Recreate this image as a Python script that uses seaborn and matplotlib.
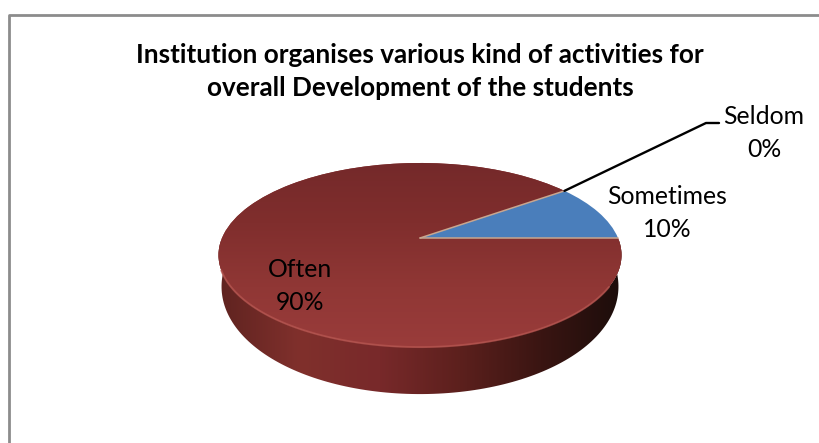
import numpy as np
import matplotlib
matplotlib.use("Agg")
import matplotlib.pyplot as plt
from matplotlib.patches import Polygon
from matplotlib.transforms import Transform
import seaborn as sns

# Data
categories = ["Sometimes", "Seldom", "Often"]
values = [10, 0, 90]
title = "Institution organises various kind of activities for\noverall Development of the students"

# Colours
pie_colors = ["#4a7ebb", "#4a7ebb", "#8c3533"]
top_shades = ["#74292a", "#802e2d", "#903735", "#9a3c3b"]
side_shades = ["#5f2320", "#80302c", "#78292a", "#5c201d", "#3a1512", "#1c0d0b"]

# Pie placement on the canvas, in pixels
cx, cy = 420, 238
rx, ry, tilt = 198, 88.9, 0.185


class Perspective(Transform):
    input_dims = 2
    output_dims = 2
    is_separable = False

    def transform_non_affine(self, values):
        values = np.asarray(values, dtype=float)
        w = 1 + tilt * values[:, 1]
        return np.column_stack([cx + rx * values[:, 0] / w, cy - ry * values[:, 1] / w])


persp = Perspective()

sns.set_theme(style="white")
plt.rcParams["font.family"] = ["Lato", "DejaVu Sans"]

fig = plt.figure(figsize=(8.19, 4.43), dpi=100)
ax = fig.add_axes([0, 0, 1, 1])

wedges, _ = ax.pie(values, colors=pie_colors, startangle=0, radius=1,
                   wedgeprops={"linewidth": 0})
for wedge in wedges:
    wedge.set_transform(persp + ax.transData)
    wedge.set_zorder(3)

# Side of the disc, bottom outline pulled in a little
theta = np.radians(np.linspace(170, 370, 160))
rim = persp.transform(np.column_stack([np.cos(theta), np.sin(theta)]))
drop = 28 - 19 * np.sin(theta)
lower = np.column_stack([cx + (rim[:, 0] - cx) * 0.985, rim[:, 1] + drop])
side = Polygon(np.vstack([rim, lower[::-1]]), closed=True, facecolor="none", edgecolor="none")
ax.add_patch(side)
side_cmap = sns.blend_palette(side_shades, as_cmap=True)
side_img = ax.imshow(np.linspace(0, 1, 256)[None, :], cmap=side_cmap, aspect="auto",
                     extent=(218, 622, 400, 240), zorder=2)
side_img.set_clip_path(side)

# Shading on the big slice
top_cmap = sns.blend_palette(top_shades, as_cmap=True)
top_img = ax.imshow(np.linspace(0, 1, 256)[:, None], cmap=top_cmap, aspect="auto",
                    extent=(215, 625, 350, 160), zorder=4)
top_img.set_clip_path(wedges[2])

# Highlight on the edge of the top face
glow = np.radians(np.linspace(200, 330, 100))
glow_pts = persp.transform(np.column_stack([np.cos(glow), np.sin(glow)]))
ax.plot(glow_pts[:, 0], glow_pts[:, 1], color="#b4534e", lw=1.4, alpha=0.8, zorder=5)

# Thin light edges of the blue slice
edge = np.radians(np.linspace(0, 360 * values[0] / sum(values), 30))
outline = persp.transform(np.vstack([[0, 0], np.column_stack([np.cos(edge), np.sin(edge)]), [0, 0]]))
ax.plot(outline[:-30, 0], outline[:-30, 1], color="#c8a68f", lw=1.1, zorder=5)
ax.plot(outline[-2:, 0], outline[-2:, 1], color="#c8a68f", lw=1.1, zorder=5)

# Leader line for the empty slice
start = persp.transform(np.array([[np.cos(edge[-1]), np.sin(edge[-1])]]))[0]
ax.plot([start[0], 706, 719], [start[1], 123, 123], color="black", lw=1.7, zorder=6)

# Frame
ax.plot([9, 9, 819], [443, 15, 15], color="#8c8c8c", lw=2, zorder=1)

ax.text(420, 71, title, ha="center", va="center", fontsize=18.8, fontweight="bold",
        color="black", linespacing=1.45)

label_pos = {"Sometimes": (667, 213), "Seldom": (764, 133), "Often": (300, 286)}
for name, value in zip(categories, values):
    x, y = label_pos[name]
    ax.text(x, y, f"{name}\n{value}%", ha="center", va="center", fontsize=17.8,
            color="black", linespacing=1.55, zorder=7)

ax.set_xlim(0, 819)
ax.set_ylim(443, 0)
ax.set_aspect("auto")
ax.axis("off")

fig.savefig("out.png", dpi=100, facecolor="white")
